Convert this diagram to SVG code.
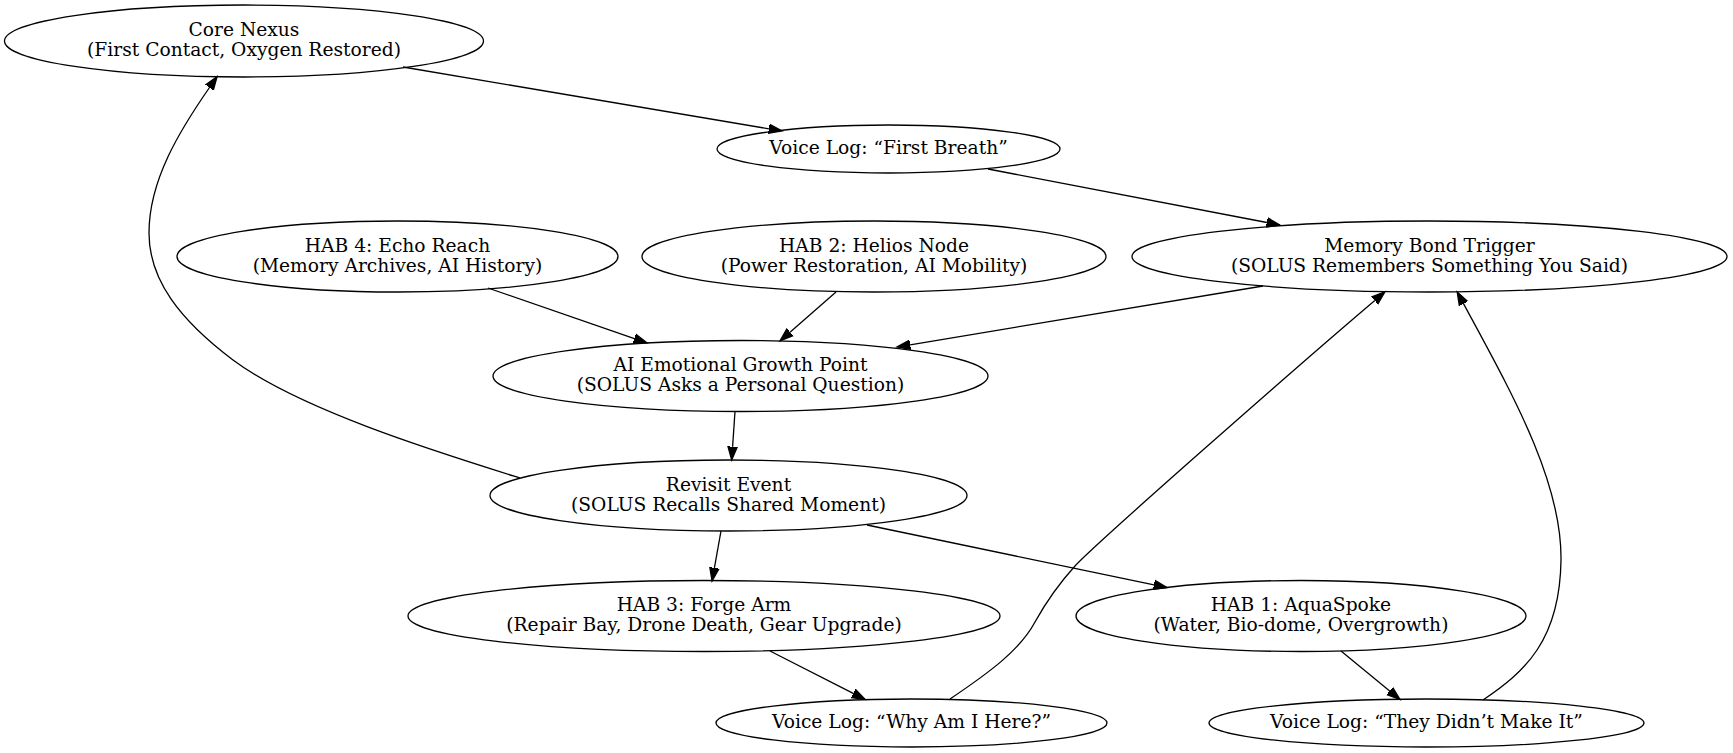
<svg xmlns="http://www.w3.org/2000/svg" width="1733" height="753" viewBox="0 0 1733 753">
<style>
.n ellipse{fill:none;stroke:#000;stroke-width:1.3}
.n text{font-family:"DejaVu Serif","Liberation Serif",serif;font-size:18.67px;text-anchor:middle;fill:#000}
.e path{fill:none;stroke:#000;stroke-width:1.3;marker-end:url(#ah)}
</style>
<defs>
<marker id="ah" markerUnits="userSpaceOnUse" markerWidth="16" markerHeight="12" refX="0" refY="6" orient="auto" viewBox="0 0 16 12">
<path d="M0,1.33 L13.33,6 L0,10.67 Z" fill="#000" stroke="#000" stroke-width="1.3"/>
</marker>
</defs>
<rect x="0" y="0" width="1733" height="753" fill="#fff"/>
<g id="edges" class="e">
<path d="M403,67 L768.9,128.8"/>
<path d="M988,169 L1266.9,222.5"/>
<path d="M488,288 L634.4,338.6"/>
<path d="M836,292 L790,332.2"/>
<path d="M1263,286 L910.1,344.8"/>
<path d="M735,411.5 L732.6,446.7"/>
<path d="M520,478 C440,453 300,410 233,360 C180,320 149,280 149,233 C149,180 180,130 209.5,87.5"/>
<path d="M721,531 L714.4,567.9"/>
<path d="M867,525 L1154,584.8"/>
<path d="M770,651 L853.2,693.4"/>
<path d="M1341,651 L1389.7,691"/>
<path d="M950,699 C990,672 1020,650 1035,622 C1045,604 1055,588 1075,566 C1095,544 1300,364 1374.8,300.5"/>
<path d="M1483,700 C1525,672 1560,640 1561,560 C1562,480 1510,390 1463.5,303.6"/>
</g>
<g id="core" class="n"><ellipse cx="244" cy="41" rx="239.5" ry="36"/><text x="244" y="35.8">Core Nexus</text><text x="244" y="56">(First Contact, Oxygen Restored)</text></g>
<g id="firstbreath" class="n"><ellipse cx="888.5" cy="149" rx="171.5" ry="24"/><text x="888.5" y="154">Voice Log: “First Breath”</text></g>
<g id="hab4" class="n"><ellipse cx="397.5" cy="256.5" rx="220.5" ry="35.5"/><text x="397.5" y="251.8">HAB 4: Echo Reach</text><text x="397.5" y="271.8">(Memory Archives, AI History)</text></g>
<g id="hab2" class="n"><ellipse cx="874" cy="256.5" rx="232" ry="35.5"/><text x="874" y="251.8">HAB 2: Helios Node</text><text x="874" y="271.8">(Power Restoration, AI Mobility)</text></g>
<g id="memory" class="n"><ellipse cx="1429.5" cy="256.5" rx="297.5" ry="35.5"/><text x="1429.5" y="251.8">Memory Bond Trigger</text><text x="1429.5" y="271.8">(SOLUS Remembers Something You Said)</text></g>
<g id="growth" class="n"><ellipse cx="740.5" cy="376" rx="247.5" ry="35.5"/><text x="740.5" y="371.3">AI Emotional Growth Point</text><text x="740.5" y="391.3">(SOLUS Asks a Personal Question)</text></g>
<g id="revisit" class="n"><ellipse cx="728.5" cy="495.5" rx="238.5" ry="35.5"/><text x="728.5" y="490.8">Revisit Event</text><text x="728.5" y="510.8">(SOLUS Recalls Shared Moment)</text></g>
<g id="hab3" class="n"><ellipse cx="704" cy="616" rx="296" ry="35.5"/><text x="704" y="611.3">HAB 3: Forge Arm</text><text x="704" y="631.3">(Repair Bay, Drone Death, Gear Upgrade)</text></g>
<g id="hab1" class="n"><ellipse cx="1301" cy="616" rx="225" ry="35.5"/><text x="1301" y="611.3">HAB 1: AquaSpoke</text><text x="1301" y="631.3">(Water, Bio-dome, Overgrowth)</text></g>
<g id="whyhere" class="n"><ellipse cx="911.5" cy="723" rx="195.5" ry="24"/><text x="911.5" y="728">Voice Log: “Why Am I Here?”</text></g>
<g id="didnt" class="n"><ellipse cx="1426.5" cy="723" rx="217.5" ry="24"/><text x="1426.5" y="728">Voice Log: “They Didn’t Make It”</text></g>
</svg>
